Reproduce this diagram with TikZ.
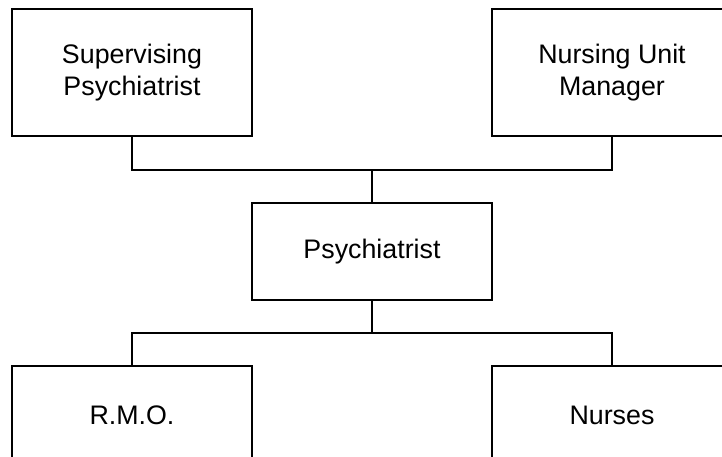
\documentclass[tikz,border=0pt]{standalone}
\usepackage{fontspec}
\setmainfont{Liberation Sans}
\usepackage{tikz}
\usetikzlibrary{positioning}

\begin{document}
\begin{tikzpicture}[x=1pt, y=1pt,
    box/.style={draw, rectangle, line width=1.4pt, minimum width=240pt, minimum height=127pt,
        align=center, font=\fontsize{26.8}{32}\selectfont},
    link/.style={line width=1.2pt}]

    \useasboundingbox (0,0) rectangle (722,456);
    \clip (0,0) rectangle (722,456);

    % Top row
    \node[box] (sup) at (132,383.5) {Supervising\\Psychiatrist};
    \node[box] (num) at (612,383.5) {Nursing Unit\\Manager};

    % Middle node
    \node[box, minimum height=97pt] (psy) at (372,204.5) {Psychiatrist};

    % Bottom row
    \node[box, minimum height=98pt] (rmo) at (132,41) {R.M.O.};
    \node[box, minimum height=98pt] (nur) at (612,41) {Nurses};

    % Junctions
    \coordinate (jtop) at (372,286);
    \coordinate (jbot) at (372,123);

    % Connections: top row to psychiatrist
    \draw[link] (sup.south) |- (jtop) -| (num.south);
    \draw[link] (jtop) -- (psy.north);

    % Connections: psychiatrist to bottom row
    \draw[link] (psy.south) -- (jbot);
    \draw[link] (rmo.north) |- (jbot) -| (nur.north);

\end{tikzpicture}
\end{document}
